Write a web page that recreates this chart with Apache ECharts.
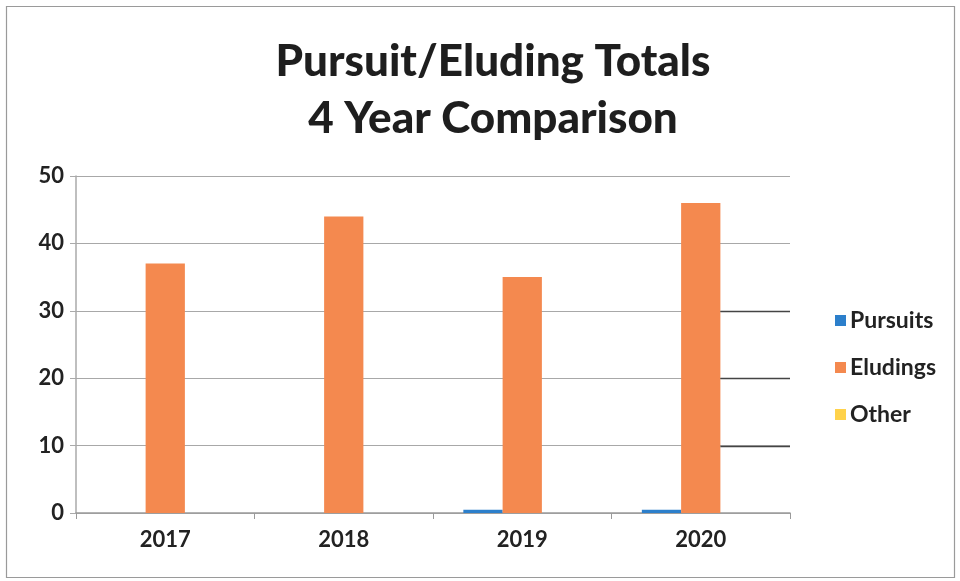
<!DOCTYPE html>
<html><head><meta charset="utf-8">
<script src="https://cdn.jsdelivr.net/npm/echarts@6/dist/echarts.min.js"></script>
<style>html,body{margin:0;padding:0;background:#fff}#c{width:960px;height:581px}</style>
</head><body><div id="c"></div>
<script>
const categories = ['2017', '2018', '2019', '2020'];
const pursuits = [0, 0, 0.5, 0.5];
const eludings = [37, 44, 35, 46];
const other = [0, 0, 0, 0];
const yTicks = [0, 10, 20, 30, 40, 50];
const darkGridValues = [10, 20, 30];

const FONT = 'Lato';
const chart = echarts.init(document.getElementById('c'));
chart.setOption({
  animation: false,
  backgroundColor: '#fff',
  title: {
    text: 'Pursuit/Eluding Totals\n4 Year Comparison',
    left: 488, textAlign: 'center', top: 28,
    textStyle: { fontFamily: FONT, fontWeight: 900, fontSize: 44, lineHeight: 57, color: '#1e1e1e', align: 'center' }
  },
  grid: { left: 76, right: 170, top: 176, bottom: 68 },
  legend: {
    orient: 'vertical', left: 830, top: 304, itemGap: 24,
    icon: 'rect', itemWidth: 11, itemHeight: 11,
    textStyle: { fontFamily: FONT, fontSize: 23, fontWeight: 'bold', color: '#222', padding: [0, 0, 0, -1] },
    data: ['Pursuits', 'Eludings', 'Other']
  },
  xAxis: {
    type: 'category', data: categories,
    axisLine: { lineStyle: { color: '#9a9a9a', width: 1.5 } },
    axisTick: { show: true, length: 6, lineStyle: { color: '#9a9a9a' } },
    axisLabel: { fontFamily: FONT, fontSize: 22, fontWeight: 'bold', color: '#222', margin: 16 }
  },
  yAxis: {
    type: 'value', min: 0, max: 50, interval: 10,
    axisLine: { show: true, lineStyle: { color: '#aaaaaa', width: 1.5 } },
    axisTick: { show: true, length: 6, lineStyle: { color: '#aaaaaa' } },
    splitLine: { lineStyle: { color: '#a8a8a8', width: 1.2 } },
    axisLabel: { fontFamily: FONT, fontSize: 22, fontWeight: 'bold', color: '#222', margin: 12,
      formatter: v => yTicks.includes(v) ? String(v) : '' }
  },
  series: [
    { name: 'Pursuits', type: 'bar', data: pursuits, itemStyle: { color: '#2C7FCB' }, barGap: '0%', barCategoryGap: '34%' },
    { name: 'Eludings', type: 'bar', data: eludings, itemStyle: { color: '#F4894F' }, barGap: '0%', barCategoryGap: '34%' },
    { name: 'Other', type: 'bar', data: other, itemStyle: { color: '#FFD24A' }, barGap: '0%', barCategoryGap: '34%' }
  ]
});

// Darker segments on the right of some gridlines (as in the scan)
const gridRight = 960 - 170;
const lastBar = chart.getModel().getSeriesByIndex(1).getData().getItemLayout(3);
const segStart = lastBar.x + lastBar.width;
const g = [
  { type: 'rect', shape: { x: 6.5, y: 6.5, width: 948, height: 571 }, style: { fill: 'none', stroke: '#9a9a9a', lineWidth: 1.2 }, silent: true }
];
darkGridValues.forEach(v => {
  const y = Math.round(chart.convertToPixel({ yAxisIndex: 0 }, v)) + 0.5;
  g.push({ type: 'line', shape: { x1: segStart, y1: y, x2: gridRight, y2: y }, style: { stroke: '#444', lineWidth: 1.5 }, silent: true, z: 10 });
});
chart.setOption({ graphic: g });
</script></body></html>
